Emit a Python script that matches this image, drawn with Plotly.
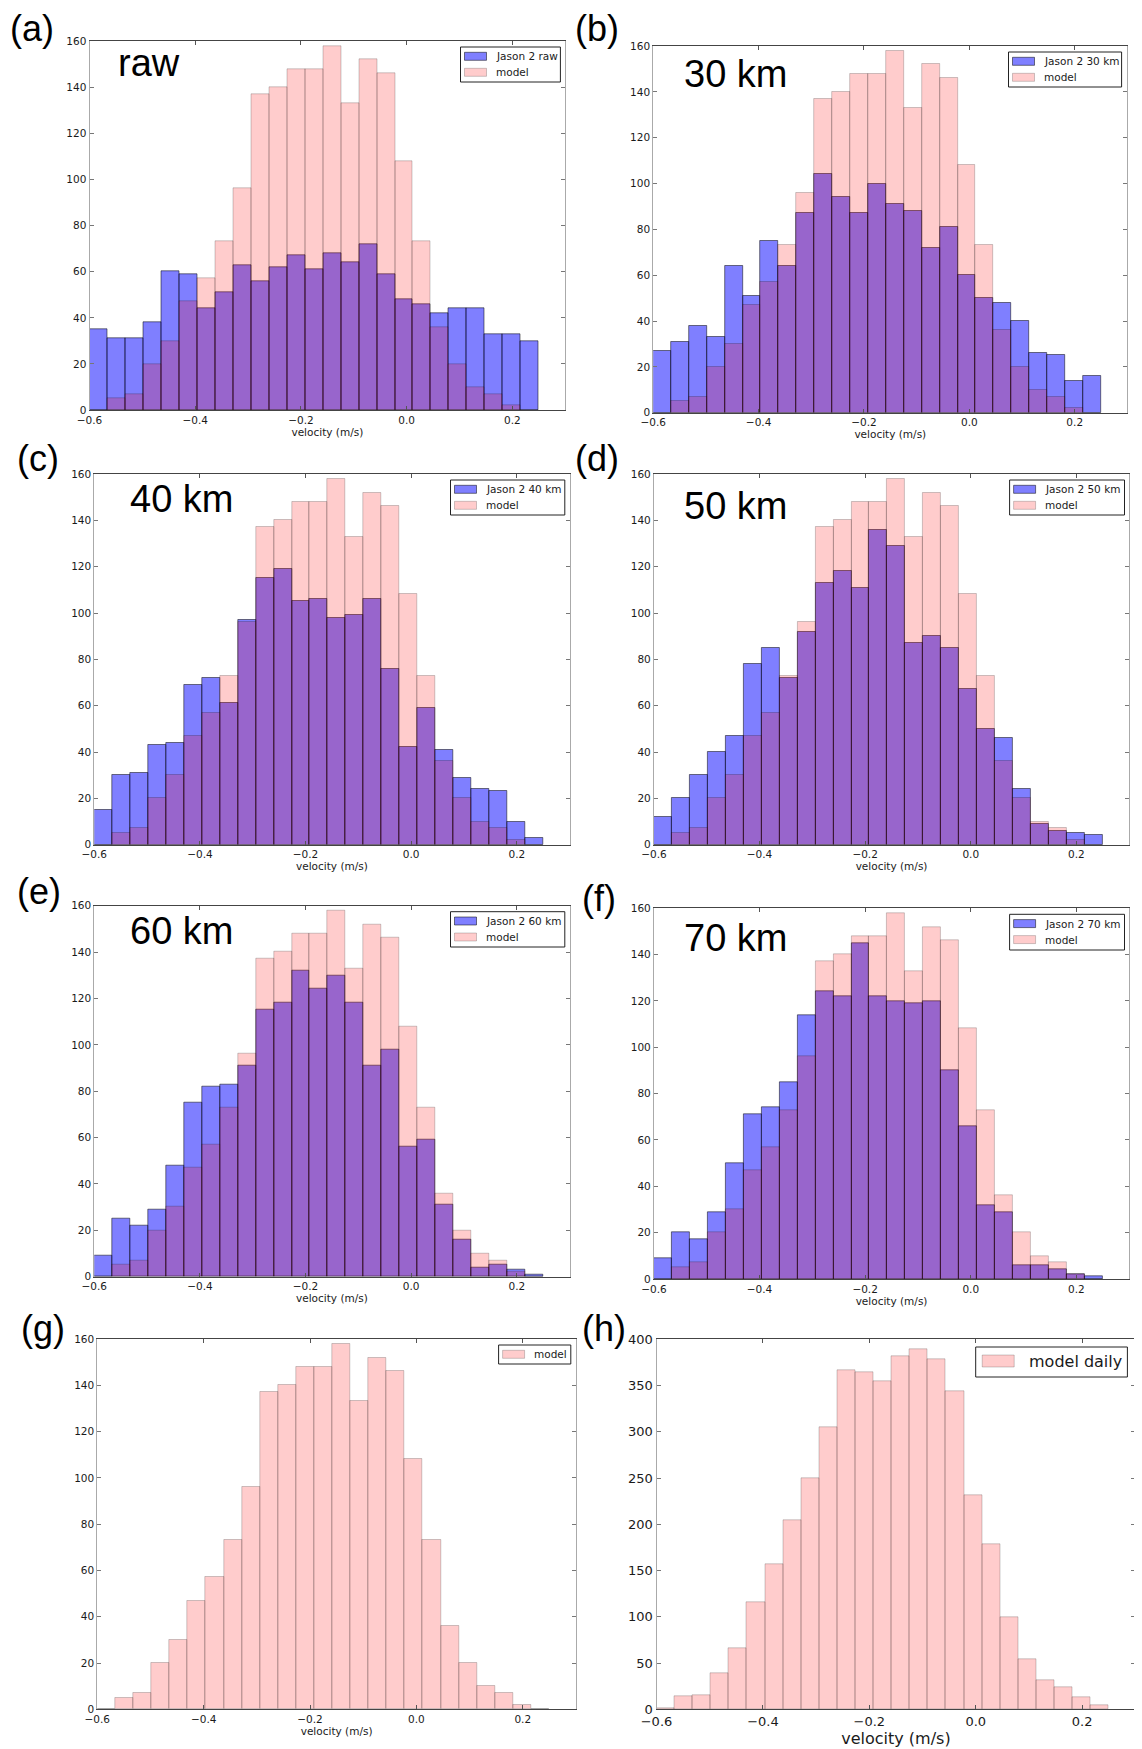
import plotly.graph_objects as go

# ---------------- data ----------------
bin_edges = [-0.600, -0.566, -0.532, -0.498, -0.464, -0.430, -0.396, -0.362, -0.328,
             -0.294, -0.260, -0.226, -0.192, -0.158, -0.124, -0.090, -0.056, -0.022,
             0.012, 0.046, 0.080, 0.114, 0.148, 0.182, 0.216, 0.250]

model = [0, 5, 7, 20, 30, 47, 57, 73, 96, 137, 140, 148, 148, 158, 133, 152, 146,
         108, 73, 36, 20, 10, 7, 2, 0]
jason_raw = [35, 31, 31, 38, 60, 59, 44, 51, 63, 56, 62, 67, 61, 68, 64, 72, 59,
             48, 46, 42, 44, 44, 33, 33, 30]
jason_30 = [27, 31, 38, 33, 64, 51, 75, 64, 87, 104, 94, 87, 100, 91, 88, 72, 81,
            60, 50, 48, 40, 26, 25, 14, 16]
jason_40 = [15, 30, 31, 43, 44, 69, 72, 61, 97, 115, 119, 105, 106, 98, 99, 106, 76,
            42, 59, 41, 29, 24, 23, 10, 3]
jason_50 = [12, 20, 30, 40, 47, 78, 85, 72, 92, 113, 118, 111, 136, 129, 87, 90, 85,
            67, 50, 46, 24, 9, 6, 5, 4]
jason_60 = [9, 25, 22, 29, 48, 75, 82, 83, 91, 115, 118, 132, 124, 130, 118, 91, 98,
            56, 59, 31, 16, 4, 5, 3, 1]
jason_70 = [9, 20, 17, 29, 50, 71, 74, 85, 114, 124, 122, 145, 122, 120, 119, 120, 90,
            66, 32, 29, 6, 6, 4, 2, 1]
model_daily = [1, 14, 15, 39, 66, 116, 157, 204, 250, 305, 367, 364, 355, 382, 389,
               378, 344, 231, 178, 99, 54, 31, 24, 13, 4]

panel_letters = ["(a)", "(b)", "(c)", "(d)", "(e)", "(f)", "(g)", "(h)"]
panel_titles = ["raw", "30 km", "40 km", "50 km", "60 km", "70 km", None, None]
jason_names = ["Jason 2 raw", "Jason 2 30 km", "Jason 2 40 km", "Jason 2 50 km",
               "Jason 2 60 km", "Jason 2 70 km"]
jason_series = [jason_raw, jason_30, jason_40, jason_50, jason_60, jason_70]
model_name = "model"
model_daily_name = "model daily"

x_tick_vals = [-0.6, -0.4, -0.2, 0.0, 0.2]
x_tick_text = ["\u22120.6", "\u22120.4", "\u22120.2", "0.0", "0.2"]
y_tick_vals = [0, 20, 40, 60, 80, 100, 120, 140, 160]
y_tick_vals_daily = [0, 50, 100, 150, 200, 250, 300, 350, 400]
x_title = "velocity (m/s)"

# ---------------- layout geometry (page pixels) ----------------
PAGE_OFF = 8          # default body margin of the html page
W, H = 1142 - PAGE_OFF, 1749 - PAGE_OFF
# left, right, top, bottom of each plotting area
boxes = [
    (89.5, 565.2, 41.3, 410.0),
    (653.2, 1127.4, 46.0, 412.7),
    (94.3, 569.6, 474.0, 844.7),
    (653.9, 1129.2, 474.0, 844.7),
    (94.3, 569.6, 905.7, 1276.7),
    (653.9, 1129.2, 908.3, 1279.0),
    (97.3, 575.9, 1339.0, 1709.3),
    (656.5, 1135.4, 1339.3, 1709.3),
]
# legend frames: left, right, top, bottom
legend_boxes = [
    (460.5, 560.4, 47.0, 82.0),
    (1008.5, 1121.6, 52.0, 87.0),
    (450.5, 564.8, 480.0, 515.0),
    (1009.6, 1124.5, 480.0, 515.0),
    (450.5, 564.8, 911.7, 947.0),
    (1009.6, 1124.5, 914.3, 950.0),
    (498.6, 570.8, 1345.0, 1364.0),
    (975.7, 1127.4, 1347.0, 1377.0),
]
letter_pos = [(9, 29), (574, 28), (16, 459), (574, 458), (16, 891), (581, 898),
              (20, 1328), (581, 1328)]
title_pos = [(117, 63), (683, 74), (129, 499), (683, 506), (129, 931), (683, 938)]


def px(x):
    return (x - PAGE_OFF) / W


def py(y):
    return 1 - (y - PAGE_OFF) / H


centers = [(bin_edges[i] + bin_edges[i + 1]) / 2 for i in range(len(bin_edges) - 1)]
widths = [bin_edges[i + 1] - bin_edges[i] for i in range(len(bin_edges) - 1)]

BLUE_FILL = "rgba(0,0,255,0.5)"
BLUE_LINE = "rgba(0,0,0,0.5)"
RED_FILL = "rgba(255,0,0,0.2)"
RED_LINE = "rgba(0,0,0,0.2)"
TXT = "#1a1a1a"

fig = go.Figure()
annotations = []
shapes = []
layout = {}

for i in range(8):
    ax = "" if i == 0 else str(i + 1)
    xref = "x" + ax
    yref = "y" + ax
    big = (i == 7)

    entries = []
    if i < 6:
        fig.add_trace(go.Bar(x=centers, y=jason_series[i], width=widths,
                             name=jason_names[i], xaxis=xref, yaxis=yref,
                             marker=dict(color=BLUE_FILL,
                                         line=dict(color=BLUE_LINE, width=1))))
        entries.append((jason_names[i], BLUE_FILL, BLUE_LINE))
    if i < 7:
        fig.add_trace(go.Bar(x=centers, y=model, width=widths, name=model_name,
                             xaxis=xref, yaxis=yref,
                             marker=dict(color=RED_FILL,
                                         line=dict(color=RED_LINE, width=1))))
        entries.append((model_name, RED_FILL, RED_LINE))
    else:
        fig.add_trace(go.Bar(x=centers, y=model_daily, width=widths,
                             name=model_daily_name, xaxis=xref, yaxis=yref,
                             marker=dict(color=RED_FILL,
                                         line=dict(color=RED_LINE, width=1))))
        entries.append((model_daily_name, RED_FILL, RED_LINE))

    l, r, t, b = boxes[i]
    tick_font = dict(family="DejaVu Sans", size=13 if big else 10.5, color=TXT)
    layout["xaxis" + ax] = dict(
        domain=[px(l), px(r)], anchor=yref, range=[-0.6, 0.3], automargin=False,
        tickvals=x_tick_vals, ticktext=x_tick_text, tickfont=tick_font,
        ticks="inside", ticklen=4, tickcolor="#555", showline=True, mirror="ticks",
        linecolor="#444", linewidth=1, showgrid=False, zeroline=False,
        ticklabelstandoff=0,
        title=dict(text=x_title, standoff=2,
                   font=dict(family="DejaVu Sans", size=16 if big else 10.5, color=TXT)),
    )
    layout["yaxis" + ax] = dict(
        domain=[py(b), py(t)], anchor=xref, automargin=False,
        range=[0, 400] if big else [0, 160],
        tickvals=y_tick_vals_daily if big else y_tick_vals, tickfont=tick_font,
        ticks="inside", ticklen=4, tickcolor="#777", showline=True, mirror="ticks",
        linecolor="#aaa", linewidth=1, showgrid=False, zeroline=False,
        ticklabelstandoff=0,
    )

    # ---- legend frame drawn in matplotlib style (wide colour patches) ----
    bl, br, bt, bb = legend_boxes[i]
    shapes.append(dict(type="rect", xref="paper", yref="paper",
                       x0=px(bl), x1=px(br), y0=py(bb), y1=py(bt),
                       fillcolor="white", line=dict(color="#222", width=1)))
    if big:
        patch_dx, patch_w, patch_h, text_dx, row0, row_step, fsize = 6.5, 32, 12, 52, 14, 16, 16
    else:
        patch_dx, patch_w, patch_h, text_dx, row0, row_step, fsize = 4, 22, 8, 34.5, 9.3, 16, 10.5
    for k, (name, fill, edge) in enumerate(entries):
        cy = bt + row0 + k * row_step
        shapes.append(dict(type="rect", xref="paper", yref="paper",
                           x0=px(bl + patch_dx), x1=px(bl + patch_dx + patch_w),
                           y0=py(cy + patch_h / 2), y1=py(cy - patch_h / 2),
                           fillcolor=fill, line=dict(color=edge, width=1)))
        annotations.append(dict(text=name, x=px(bl + text_dx), y=py(cy), xref="paper",
                                yref="paper", xanchor="left", yanchor="middle",
                                showarrow=False, borderpad=0,
                                font=dict(family="DejaVu Sans", size=fsize, color=TXT)))

    lx, lyc = letter_pos[i]
    annotations.append(dict(text=panel_letters[i], x=px(lx), y=py(lyc), xref="paper",
                            yref="paper", xanchor="left", yanchor="middle",
                            showarrow=False, borderpad=0,
                            font=dict(family="Liberation Sans", size=36, color="black")))
    if panel_titles[i]:
        tx, tyc = title_pos[i]
        annotations.append(dict(text=panel_titles[i], x=px(tx), y=py(tyc), xref="paper",
                                yref="paper", xanchor="left", yanchor="middle",
                                showarrow=False, borderpad=0,
                                font=dict(family="Liberation Sans", size=38, color="black")))

fig.update_layout(**layout)
fig.update_layout(
    width=W, height=H, margin=dict(l=0, r=0, t=0, b=0, autoexpand=False),
    paper_bgcolor="white", plot_bgcolor="white",
    barmode="overlay", bargap=0, annotations=annotations, shapes=shapes,
    showlegend=False,
)

fig.write_html("out.html")
